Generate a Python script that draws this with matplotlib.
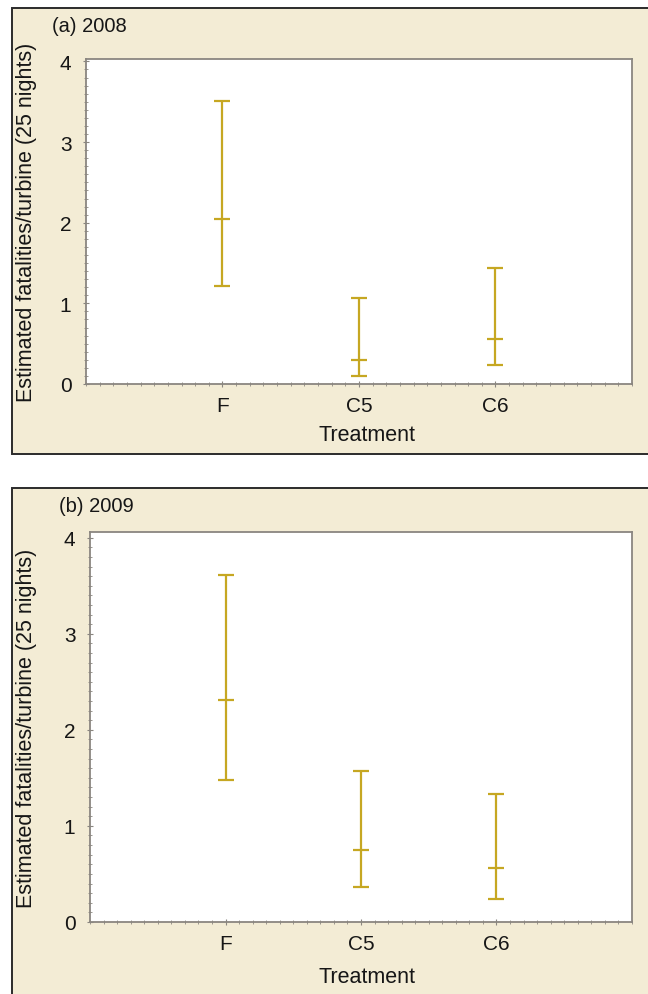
import matplotlib
matplotlib.use('Agg')
import matplotlib.pyplot as plt
from matplotlib.patches import Rectangle
from matplotlib.ticker import MultipleLocator

BAR_COLOR   = '#c6a722'
FRAME_COLOR = '#f3ecd5'
SPINE_COLOR = '#8a8680'
TEXT_COLOR  = '#161616'

treatments = ['F', 'C5', 'C6']
positions  = [1, 2, 3]

# 2008 estimates with lower / upper interval bounds
est_2008   = [2.05, 0.30, 0.56]
lower_2008 = [1.21, 0.10, 0.23]
upper_2008 = [3.51, 1.06, 1.44]

# 2009
est_2009   = [2.31, 0.75, 0.56]
lower_2009 = [1.48, 0.36, 0.24]
upper_2009 = [3.61, 1.57, 1.33]

plt.rcParams['font.family'] = ['Liberation Sans', 'DejaVu Sans']

fig = plt.figure(figsize=(6.48, 9.95), dpi=100)
fig.patch.set_facecolor('white')

# beige panel frames (run off the right / bottom edge like the source)
for y0, h in [(0.5427, 0.4483), (-0.02, 0.5285)]:
    fig.patches.append(Rectangle((0.0185, y0), 1.2, h, transform=fig.transFigure,
                                 facecolor=FRAME_COLOR, edgecolor='#2b2b2b',
                                 linewidth=1.4, zorder=-10))


def draw_panel(ax, est, lo, hi, title, title_xy, ylab_x, xlab_xy, ytop):
    yerr = [[e - l for e, l in zip(est, lo)], [h - e for e, h in zip(est, hi)]]
    ax.errorbar(positions, est, yerr=yerr, fmt='_', color=BAR_COLOR,
                ecolor=BAR_COLOR, elinewidth=1.6, capsize=5.5, capthick=1.6,
                markersize=11, markeredgewidth=1.6, zorder=3)

    ax.set_xlim(0, 4)
    ax.set_ylim(0, ytop)
    ax.set_xticks(positions)
    ax.set_xticklabels(treatments)
    ax.set_yticks([0, 1, 2, 3, 4])
    ax.xaxis.set_minor_locator(MultipleLocator(0.1))
    ax.yaxis.set_minor_locator(MultipleLocator(0.1))
    ax.tick_params(which='major', direction='inout', length=5, width=0.8,
                   color=SPINE_COLOR, labelsize=15, labelcolor=TEXT_COLOR, pad=8)
    ax.tick_params(which='minor', direction='inout', length=3, width=0.6,
                   color=SPINE_COLOR)
    ax.tick_params(axis='x', which='major', pad=6)

    for side in ['top', 'right', 'left', 'bottom']:
        ax.spines[side].set_color(SPINE_COLOR)
        ax.spines[side].set_linewidth(1.3)
    ax.set_facecolor('white')

    ax.set_ylabel('Estimated fatalities/turbine (25 nights)', fontsize=15.5,
                  color=TEXT_COLOR)
    ax.yaxis.set_label_coords(ylab_x, 0.5)
    ax.set_xlabel('Treatment', fontsize=15.5, color=TEXT_COLOR)
    ax.xaxis.set_label_coords(*xlab_xy)

    fig.text(title_xy[0], title_xy[1], title, fontsize=14.5, color=TEXT_COLOR,
             ha='left', va='center')


ax1 = fig.add_axes([0.1327, 0.6131, 0.8426, 0.3266])
draw_panel(ax1, est_2008, lower_2008, upper_2008, '(a) 2008',
           (0.0802, 0.9729), -0.09, (0.515, -0.123), 4.03)

ax2 = fig.add_axes([0.1389, 0.0724, 0.8364, 0.3920])
draw_panel(ax2, est_2009, lower_2009, upper_2009, '(b) 2009',
           (0.0910, 0.4905), -0.098, (0.511, -0.113), 4.06)

fig.savefig('out.png', dpi=100, facecolor='white')
